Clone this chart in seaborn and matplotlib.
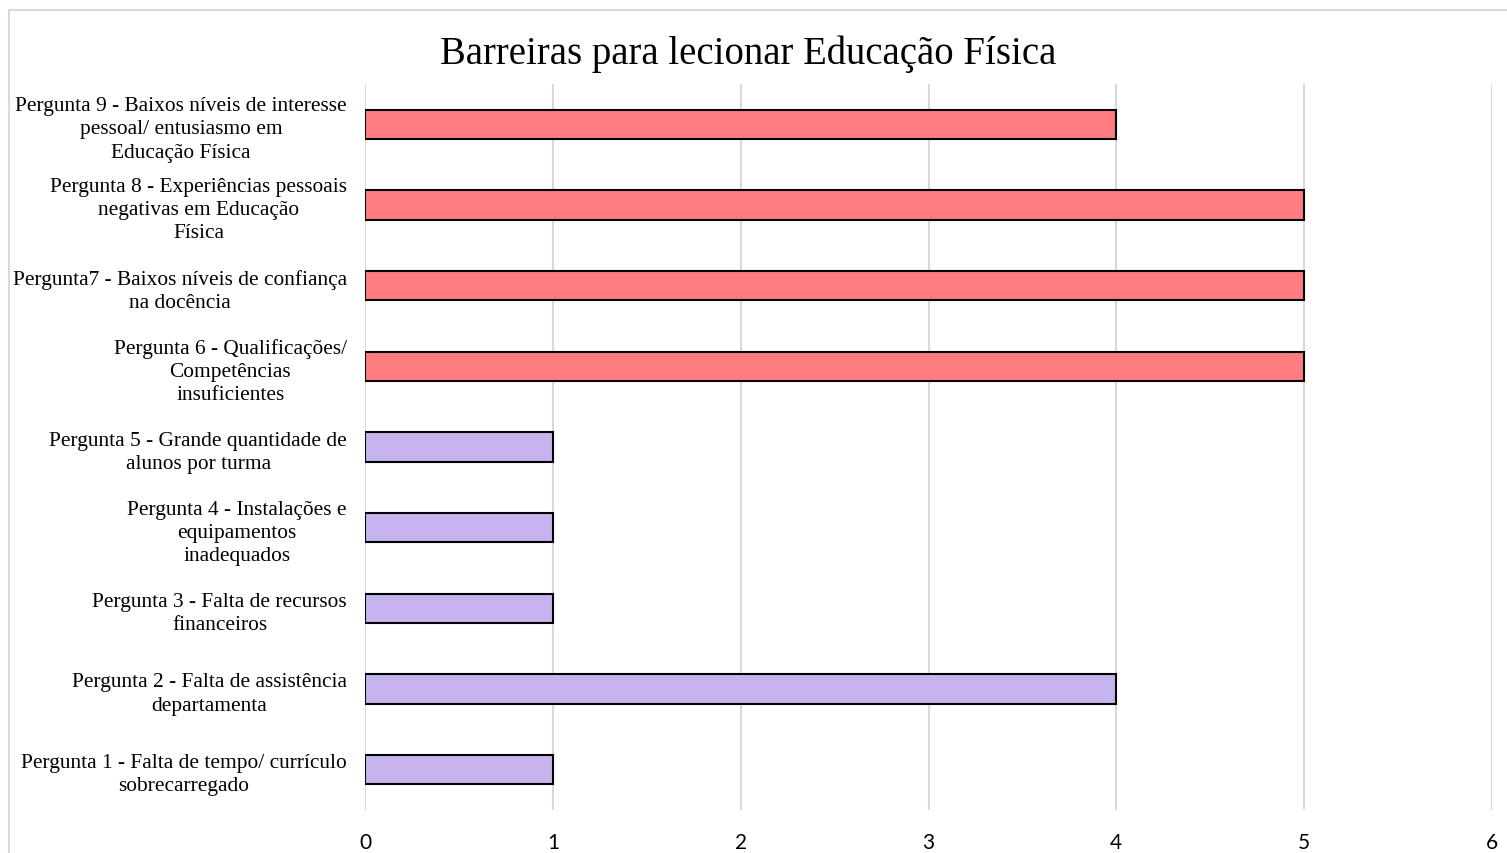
import pandas as pd
import seaborn as sns
import matplotlib.pyplot as plt
from matplotlib.patches import Rectangle

# categories top to bottom as in the chart
perguntas = [
    "Pergunta 9 - Baixos níveis de interesse\npessoal/ entusiasmo em\nEducação Física",
    "Pergunta 8 - Experiências pessoais\nnegativas em Educação\nFísica",
    "Pergunta7 - Baixos níveis de confiança\nna docência",
    "Pergunta 6 - Qualificações/\nCompetências\ninsuficientes",
    "Pergunta 5 - Grande quantidade de\nalunos por turma",
    "Pergunta 4 - Instalações e\nequipamentos\ninadequados",
    "Pergunta 3 - Falta de recursos\nfinanceiros",
    "Pergunta 2 - Falta de assistência\ndepartamenta",
    "Pergunta 1 - Falta de tempo/ currículo\nsobrecarregado",
]
valores = [4, 5, 5, 5, 1, 1, 1, 4, 1]
grupo = ["pessoal", "pessoal", "pessoal", "pessoal",
         "institucional", "institucional", "institucional", "institucional", "institucional"]
cores = {"pessoal": "#FF7C80", "institucional": "#C6B4EE"}

df = pd.DataFrame({"pergunta": perguntas, "valor": valores, "grupo": grupo})

sns.set_style("white")
plt.rcParams["font.family"] = ["Liberation Serif", "DejaVu Serif"]
plt.rcParams["text.color"] = "black"
plt.rcParams["xtick.color"] = "black"
plt.rcParams["ytick.color"] = "black"

fig = plt.figure(figsize=(15.07, 8.54), dpi=100)
ax = fig.add_axes([365 / 1507, 1 - 811 / 854, (1492 - 365) / 1507, (811 - 85) / 854])

sns.barplot(data=df, x="valor", y="pergunta", hue="grupo", palette=cores, dodge=False,
            saturation=1, width=0.36, edgecolor="black", linewidth=1.5, legend=False,
            ax=ax, zorder=3)

ax.set_xlim(0, 6)
ax.set_ylim(8.5, -0.5)
ax.set_xticks(range(7))
ax.grid(axis="x", color="#D9D9D9", linewidth=1.5, zorder=0)
ax.set_axisbelow(True)
for s in ax.spines.values():
    s.set_visible(False)
ax.set_xlabel("")
ax.set_ylabel("")
ax.tick_params(axis="x", length=0, pad=16)
ax.tick_params(axis="y", length=0, pad=13)
for lbl in ax.get_xticklabels():
    lbl.set_fontfamily(["Lato", "DejaVu Sans"])
    lbl.set_fontsize(15)
for lbl in ax.get_yticklabels():
    lbl.set_fontsize(15.4)
    lbl.set_multialignment("center")
    lbl.set_linespacing(1.3)

fig.text(748 / 1507, 1 - 54 / 854, "Barreiras para lecionar Educação Física",
         ha="center", va="center", fontsize=27.9)

fig.patches.append(Rectangle((9 / 1507, -0.1), 1.2, 1 - 11 / 854 + 0.1, transform=fig.transFigure,
                             fill=False, edgecolor="#D9D9D9", linewidth=1.5))

plt.savefig("out.png", dpi=100)
